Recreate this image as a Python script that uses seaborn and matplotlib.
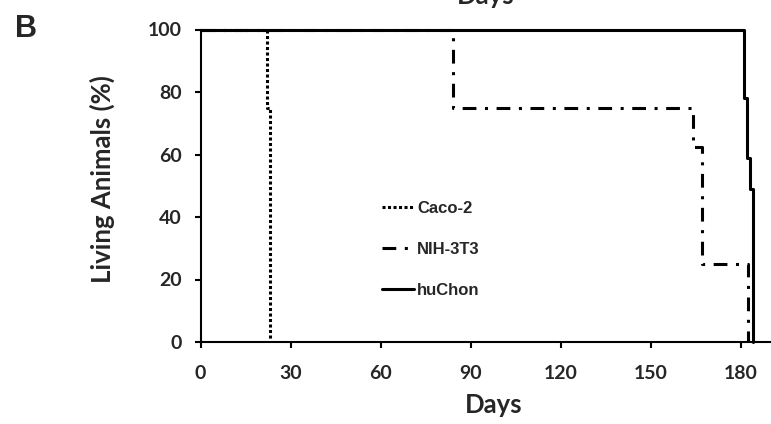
import numpy as np
import pandas as pd
import matplotlib.pyplot as plt
import seaborn as sns

# survival data (days, % living)
caco_days = [0, 22, 23]
caco_pct = [100, 75, 0]
nih_days = [0, 84, 164, 167, 182.5]
nih_pct = [100, 75, 62.5, 25, 0]
huchon_days = [0, 181, 182, 183, 184]
huchon_pct = [100, 78, 59, 49, 0]

x_ticks = [0, 30, 60, 90, 120, 150, 180]
y_ticks = [0, 20, 40, 60, 80, 100]

sns.set_theme(style="ticks")
plt.rcParams["font.family"] = ["Lato", "DejaVu Sans"]
plt.rcParams["font.weight"] = "bold"

W, H = 771, 424
fig = plt.figure(figsize=(W / 100, H / 100), dpi=100)
# the original panel is cropped on the right, so the axes run past the edge
x_max = 195.5
ax = fig.add_axes([200.5 / W, 1 - 342 / H, 3 * x_max / W, (342 - 29.5) / H])

df_caco = pd.DataFrame({"days": caco_days, "pct": caco_pct})
df_nih = pd.DataFrame({"days": nih_days, "pct": nih_pct})
df_hu = pd.DataFrame({"days": huchon_days, "pct": huchon_pct})

lw = 2.2
sns.lineplot(data=df_caco, x="days", y="pct", ax=ax, color="black", lw=lw,
             linestyle=(0, (1, 0.8)), drawstyle="steps-post", estimator=None,
             sort=False, label="Caco-2", clip_on=False)
sns.lineplot(data=df_nih, x="days", y="pct", ax=ax, color="black", lw=lw,
             linestyle=(0, (4.5, 2.8, 1, 2.8)), drawstyle="steps-post",
             estimator=None, sort=False, label="NIH-3T3", clip_on=False)
sns.lineplot(data=df_hu, x="days", y="pct", ax=ax, color="black", lw=lw,
             drawstyle="steps-post", estimator=None, sort=False,
             label="huChon", clip_on=False, zorder=3)

ax.set_xlim(0, x_max)
ax.set_ylim(0, 100)
ax.set_xticks(x_ticks)
ax.set_yticks(y_ticks)
sns.despine(ax=ax)
for s in ["left", "bottom"]:
    ax.spines[s].set_linewidth(1.5)
    ax.spines[s].set_color("black")
ax.tick_params(length=4.5, width=1.5, color="black", labelsize=14)
ax.tick_params(axis="x", pad=12)
ax.tick_params(axis="y", pad=9)
for t in ax.get_xticklabels() + ax.get_yticklabels():
    t.set_fontweight("bold")

ax.set_xlabel("Days", fontsize=18.5, fontweight="bold")
ax.set_ylabel("Living Animals (%)", fontsize=18.5, fontweight="bold")
ax.yaxis.set_label_coords(-0.149 * 571 / (3 * x_max), 0.52)
ax.xaxis.set_label_coords(0.5, -0.163)

ax.legend(loc="upper left", bbox_to_anchor=(382 / W, 1 - 201 / H),
          bbox_transform=fig.transFigure, frameon=False, borderpad=0,
          borderaxespad=0, handlelength=1.9, handletextpad=0.2,
          labelspacing=1.55, prop={"family": "Liberation Sans",
                                   "weight": "bold", "size": 12})

fig.text(15 / W, 1 - 37 / H, "B", fontsize=22, fontweight="bold",
         family="Liberation Sans", ha="left", va="baseline")
# bottom of the previous panel's axis label, cut off at the top
fig.text(486 / W, 1 - 4 / H, "Days", fontsize=18.5, fontweight="bold",
         ha="center", va="baseline")

fig.savefig("out.png", dpi=100, facecolor="white")
